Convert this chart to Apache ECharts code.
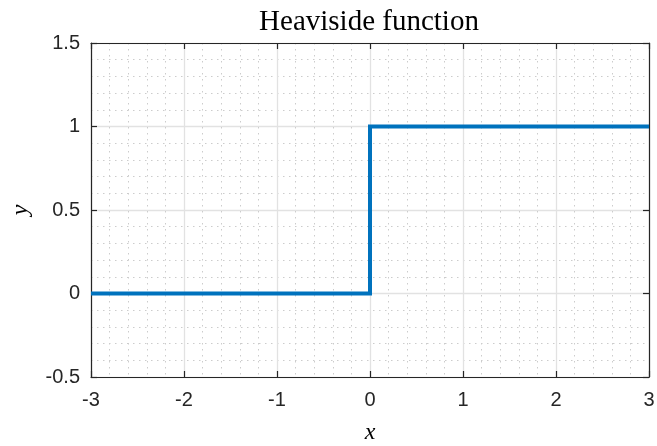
<!DOCTYPE html>
<html>
<head>
<meta charset="utf-8">
<script src="https://cdn.jsdelivr.net/npm/echarts@6/dist/echarts.min.js"></script>
<style>
  html, body { margin: 0; padding: 0; background: #fff; }
  #chart { width: 657px; height: 446px; }
</style>
</head>
<body>
<div id="chart"></div>
<script>
// Unit step: 0 for x < 0, 1 for x >= 0
const stepX = [-3, 0, 0, 3];
const stepY = [0, 0, 1, 1];
const xRange = [-3, 3];
const yRange = [-0.5, 1.5];

const axisColor = '#262626';
const tickFont = { fontFamily: 'Liberation Sans, Arial, sans-serif', fontSize: 20, color: axisColor };
const serif = 'Liberation Serif, "DejaVu Serif", serif';

const majorGrid = { show: true, lineStyle: { color: '#e2e2e2', width: 1.3 } };
const minorGrid = { show: true, lineStyle: { color: '#cccccc', width: 1, type: [1.5, 4.5] } };

function boxAxis(extra) {
  return Object.assign({
    type: 'value',
    axisLine: { show: true, onZero: false, lineStyle: { color: axisColor, width: 1.2 } },
    axisTick: { show: true, inside: true, length: 6, lineStyle: { color: axisColor, width: 1.2 } },
    splitLine: { show: false },
    axisLabel: { show: false }
  }, extra);
}

const chart = echarts.init(document.getElementById('chart'), null, { renderer: 'canvas' });
chart.setOption({
  animation: false,
  backgroundColor: '#ffffff',
  title: {
    text: 'Heaviside function',
    left: 364, top: 3, textAlign: 'center',
    textStyle: { fontFamily: serif, fontWeight: 'normal', fontSize: 29, color: '#000' }
  },
  grid: { left: 91, right: 8, top: 43, bottom: 69, containLabel: false, outerBoundsMode: 'none' },
  xAxis: [
    boxAxis({
      position: 'bottom', min: xRange[0], max: xRange[1], interval: 1,
      axisLabel: Object.assign({ show: true, margin: 13 }, tickFont),
      splitLine: majorGrid,
      minorTick: { show: false, splitNumber: 5 },
      minorSplitLine: minorGrid,
      name: 'x', nameLocation: 'middle', nameGap: 44,
      nameTextStyle: { fontFamily: serif, fontStyle: 'italic', fontSize: 24, color: '#000' }
    }),
    boxAxis({ position: 'top', min: xRange[0], max: xRange[1], interval: 1 })
  ],
  yAxis: [
    boxAxis({
      position: 'left', min: yRange[0], max: yRange[1], interval: 0.5,
      axisLabel: Object.assign({ show: true, margin: 11 }, tickFont),
      splitLine: majorGrid,
      minorTick: { show: false, splitNumber: 5 },
      minorSplitLine: minorGrid,
      name: 'y', nameLocation: 'middle', nameGap: 58, nameRotate: 90,
      nameTextStyle: { fontFamily: serif, fontStyle: 'italic', fontSize: 24, color: '#000' }
    }),
    boxAxis({ position: 'right', min: yRange[0], max: yRange[1], interval: 0.5 })
  ],
  series: [{
    type: 'line',
    data: stepX.map((x, i) => [x, stepY[i]]),
    showSymbol: false,
    lineStyle: { color: '#0072BD', width: 4, join: 'miter' },
    itemStyle: { color: '#0072BD' },
    silent: true
  }]
});
</script>
</body>
</html>
